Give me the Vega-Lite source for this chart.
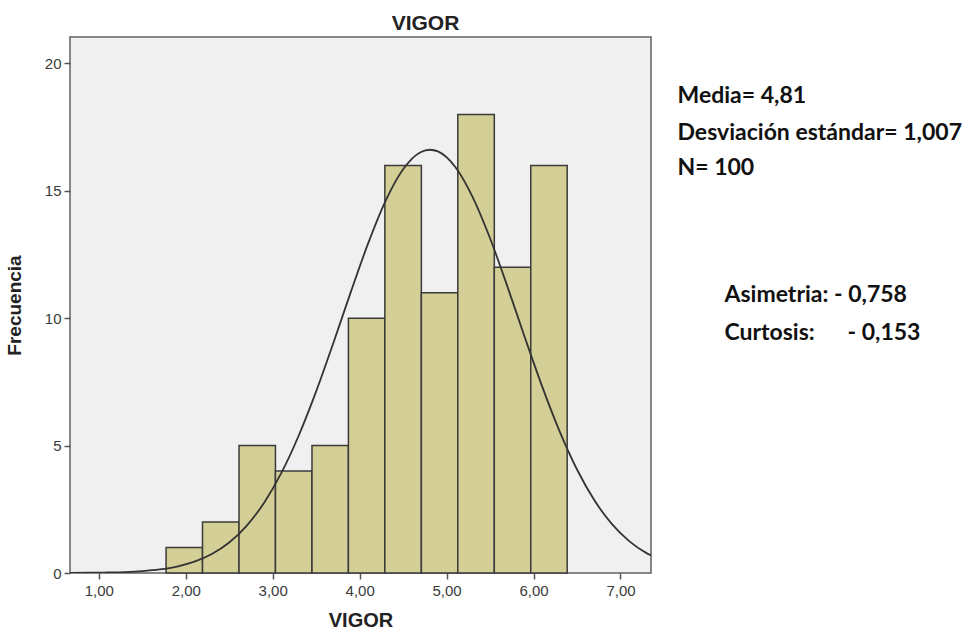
{
  "$schema": "https://vega.github.io/schema/vega-lite/v6.json",
  "width": 581,
  "height": 536,
  "autosize": {"type": "none"},
  "padding": {"left": 70, "top": 37, "right": 319, "bottom": 58},
  "background": "white",
  "config": {
    "view": {"fill": "#f0f0f0", "stroke": "#606060", "strokeWidth": 1.5},
    "axis": {
      "domain": false,
      "grid": false,
      "ticks": true,
      "tickColor": "#555555",
      "tickSize": 6,
      "tickWidth": 1.5,
      "labelFont": "Liberation Sans",
      "labelFontSize": 15,
      "labelColor": "#3a3a3a",
      "titleFont": "Liberation Sans",
      "titleFontWeight": "bold",
      "titleColor": "#222222"
    }
  },
  "title": {
    "text": "VIGOR",
    "font": "Liberation Sans",
    "fontSize": 21,
    "fontWeight": "bold",
    "color": "#222222",
    "dx": 65,
    "dy": 22,
    "offset": 4,
    "baseline": "bottom"
  },
  "datasets": {
    "bins": [
      {"bin_start": 1.774, "bin_end": 2.193, "count": 1},
      {"bin_start": 2.193, "bin_end": 2.613, "count": 2},
      {"bin_start": 2.613, "bin_end": 3.032, "count": 5},
      {"bin_start": 3.032, "bin_end": 3.452, "count": 4},
      {"bin_start": 3.452, "bin_end": 3.871, "count": 5},
      {"bin_start": 3.871, "bin_end": 4.290, "count": 10},
      {"bin_start": 4.290, "bin_end": 4.710, "count": 16},
      {"bin_start": 4.710, "bin_end": 5.129, "count": 11},
      {"bin_start": 5.129, "bin_end": 5.549, "count": 18},
      {"bin_start": 5.549, "bin_end": 5.968, "count": 12},
      {"bin_start": 5.968, "bin_end": 6.387, "count": 16}
    ],
    "curve": [
      {"x": 0.669, "y": 0.0035},
      {"x": 0.9, "y": 0.009},
      {"x": 1.1, "y": 0.019},
      {"x": 1.3, "y": 0.038},
      {"x": 1.5, "y": 0.075},
      {"x": 1.7, "y": 0.141},
      {"x": 1.9, "y": 0.255},
      {"x": 2.1, "y": 0.444},
      {"x": 2.3, "y": 0.743},
      {"x": 2.5, "y": 1.196},
      {"x": 2.7, "y": 1.851},
      {"x": 2.9, "y": 2.75},
      {"x": 3.1, "y": 3.928},
      {"x": 3.3, "y": 5.398},
      {"x": 3.5, "y": 7.128},
      {"x": 3.7, "y": 9.05},
      {"x": 3.9, "y": 11.045},
      {"x": 4.1, "y": 12.956},
      {"x": 4.3, "y": 14.614},
      {"x": 4.5, "y": 15.845},
      {"x": 4.7, "y": 16.516},
      {"x": 4.81, "y": 16.615},
      {"x": 4.9, "y": 16.548},
      {"x": 5.1, "y": 15.939},
      {"x": 5.3, "y": 14.758},
      {"x": 5.5, "y": 13.139},
      {"x": 5.7, "y": 11.243},
      {"x": 5.9, "y": 9.247},
      {"x": 6.1, "y": 7.314},
      {"x": 6.3, "y": 5.559},
      {"x": 6.5, "y": 4.062},
      {"x": 6.7, "y": 2.854},
      {"x": 6.9, "y": 1.928},
      {"x": 7.1, "y": 1.252},
      {"x": 7.3, "y": 0.781},
      {"x": 7.351, "y": 0.693}
    ],
    "notes": [
      {"label": "Media= 4,81", "nx": 7.656, "ny": 18.43},
      {"label": "Desviación estándar= 1,007", "nx": 7.656, "ny": 16.99},
      {"label": "N= 100", "nx": 7.656, "ny": 15.62},
      {"label": "Asimetria: - 0,758", "nx": 8.196, "ny": 10.65},
      {"label": "Curtosis:", "nx": 8.196, "ny": 9.15},
      {"label": "- 0,153", "nx": 9.611, "ny": 9.15}
    ]
  },
  "layer": [
    {
      "data": {"name": "bins"},
      "mark": {"type": "rect", "fill": "#d3cf96", "stroke": "#3a3a3a", "strokeWidth": 1.5},
      "encoding": {
        "x": {
          "field": "bin_start",
          "type": "quantitative",
          "scale": {"domain": [0.669, 7.351], "nice": false, "zero": false},
          "axis": {
            "title": "VIGOR",
            "values": [1, 2, 3, 4, 5, 6, 7],
            "labelExpr": "replace(format(datum.value, '.2f'), '.', ',')",
            "labelPadding": 4,
            "titleFontSize": 20,
            "titlePadding": 12
          }
        },
        "x2": {"field": "bin_end"},
        "y": {
          "field": "count",
          "type": "quantitative",
          "scale": {"domain": [0, 21.04], "nice": false},
          "axis": {
            "title": "Frecuencia",
            "values": [0, 5, 10, 15, 20],
            "labelPadding": 3,
            "titleFontSize": 19,
            "titlePadding": 20
          }
        },
        "y2": {"datum": 0}
      }
    },
    {
      "data": {"name": "curve"},
      "mark": {"type": "line", "color": "#333333", "strokeWidth": 1.8, "interpolate": "monotone", "clip": true},
      "encoding": {
        "x": {"field": "x", "type": "quantitative", "title": "VIGOR", "scale": {"domain": [0.669, 7.351], "nice": false, "zero": false}},
        "y": {"field": "y", "type": "quantitative", "title": "Frecuencia", "scale": {"domain": [0, 21.04], "nice": false}}
      }
    },
    {
      "data": {"name": "notes"},
      "mark": {"type": "text", "font": "Lato", "fontWeight": "bold", "fontSize": 23, "align": "left", "baseline": "alphabetic", "color": "#111111"},
      "encoding": {
        "x": {"field": "nx", "type": "quantitative", "title": "VIGOR", "scale": {"domain": [0.669, 7.351], "nice": false, "zero": false}},
        "y": {"field": "ny", "type": "quantitative", "title": "Frecuencia", "scale": {"domain": [0, 21.04], "nice": false}},
        "text": {"field": "label"}
      }
    }
  ]
}
